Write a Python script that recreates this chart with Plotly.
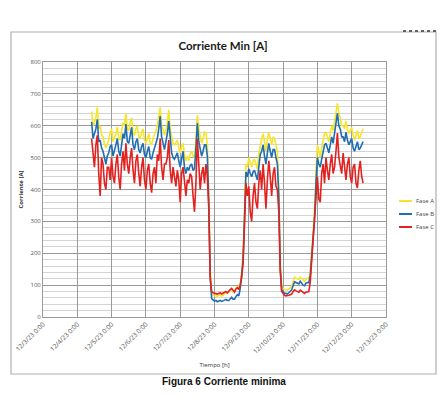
import pandas as pd
import plotly.graph_objects as go

# the page body adds an 8 px margin, so the figure is laid out 8 px smaller
OFF = 8
W, H = 446 - OFF, 419 - OFF
L, R, T, B = 43 - OFF, 60, 62 - OFF, 102


def px_x(px):
    return (px - OFF - L) / (W - L - R)


def px_y(py):
    return (H - B - (py - OFF)) / (H - T - B)


# %% data (hourly, 12/4 10:00 -> 12/12 8:00)
times = pd.date_range("2023-12-04 10:00", periods=191, freq="h")

fase_a = [
    645, 600, 610, 625, 658, 590, 600, 570, 565, 540, 530, 545,
    555, 580, 590, 550, 560, 575, 596, 560, 555, 585, 610, 600,
    640, 590, 585, 610, 625, 575, 570, 590, 600, 565, 560, 580,
    590, 555, 545, 560, 575, 545, 540, 560, 570, 585, 600, 630,
    658, 600, 590, 570, 585, 610, 650, 590, 560, 545, 540, 550,
    555, 530, 515, 535, 545, 510, 490, 505, 490, 510, 520, 505,
    500, 560, 633, 590, 570, 545, 560, 580, 577, 540, 380, 150,
    72, 70, 66, 68, 64, 68, 70, 66, 68, 74, 78, 74,
    76, 84, 88, 80, 82, 90, 94, 88, 105, 140, 190, 330,
    480, 470, 500, 485, 470, 490, 495, 480, 465, 510, 540, 560,
    575, 545, 520, 555, 580, 560, 540, 565, 560, 540, 520, 400,
    170, 100, 90, 86, 85, 84, 88, 92, 95, 110, 125, 122,
    120, 118, 125, 120, 115, 112, 118, 122, 120, 140, 200, 260,
    330, 450, 540, 520, 500, 530, 560, 575, 580, 560, 550, 575,
    600, 585, 610, 640, 670, 640, 625, 600, 600, 590, 615, 590,
    575, 585, 595, 570, 555, 570, 585, 560, 565, 580, 590,
]
fase_b = [
    612, 560, 575, 590, 620, 550, 555, 530, 520, 495, 480, 505,
    515, 535, 540, 505, 520, 540, 560, 520, 505, 545, 575, 560,
    605, 550, 545, 570, 595, 540, 525, 550, 560, 525, 515, 535,
    545, 510, 500, 520, 535, 500, 495, 515, 530, 545, 560, 590,
    630, 565, 540, 525, 550, 575, 615, 550, 515, 500, 495, 505,
    515, 490, 470, 495, 520, 470, 450, 470, 460, 475, 480, 460,
    465, 530, 608, 550, 530, 505, 520, 540, 540, 505, 360, 130,
    58, 54, 50, 52, 48, 50, 52, 49, 50, 53, 55, 52,
    52, 58, 62, 56, 56, 64, 70, 66, 90, 130, 180, 310,
    455, 440, 465, 450, 440, 455, 460, 445, 430, 470, 510, 520,
    540, 505, 480, 515, 545, 520, 500, 525, 525, 500, 480, 380,
    155, 85, 78, 74, 74, 72, 76, 80, 85, 98, 110, 108,
    105, 104, 112, 106, 100, 98, 106, 108, 108, 130, 190, 250,
    310, 420, 500, 480, 470, 495, 525, 540, 545, 525, 515, 540,
    565, 545, 575, 605, 640, 600, 590, 565, 565, 550, 580, 555,
    540, 550, 560, 530, 520, 535, 550, 525, 530, 540, 550,
]
fase_c = [
    560, 520, 470, 540, 570, 450, 380, 500, 480, 420, 400, 470,
    470, 430, 500, 440, 420, 480, 510, 440, 400, 480, 520, 460,
    545, 480, 450, 500, 530, 460, 420, 490, 510, 450, 410, 470,
    500, 430, 400, 460, 480, 420, 390, 450, 470, 420, 510, 490,
    560, 470, 430, 480, 480, 500, 555, 460, 420, 470, 440, 410,
    460, 430, 360, 450, 470, 420, 380, 430, 420, 450, 440, 380,
    330, 420, 560, 480, 400, 450, 470, 420, 480, 440, 340, 120,
    80, 76, 74, 72, 72, 74, 76, 72, 74, 78, 80, 76,
    82, 86, 90, 82, 78, 88, 92, 86, 100, 125, 170, 290,
    420, 380, 410, 330, 300, 380, 420, 360, 340, 420, 460, 400,
    480, 420, 340, 430, 490, 440, 380, 450, 470, 410, 400, 330,
    145, 80, 72, 68, 66, 66, 68, 70, 72, 80, 85, 82,
    80, 78, 84, 80, 76, 74, 78, 80, 80, 110, 180, 230,
    290, 380, 440, 370, 360, 450, 480, 420, 500, 460, 430, 480,
    510, 450, 470, 520, 577, 500, 480, 450, 514, 470, 430, 480,
    500, 440, 420, 470, 480, 420, 405, 460, 490, 440, 420,
]
assert len(fase_a) == len(fase_b) == len(fase_c) == len(times)

day_ticks = pd.date_range("2023-12-03", "2023-12-13", freq="D")
day_labels = [
    "12/3/23 0:00", "12/4/23 0:00", "12/5/23 0:00", "12/6/23 0:00",
    "12/7/23 0:00", "12/8/23 0:00", "12/9/23 0:00", "12/10/23 0:00",
    "12/11/23 0:00", "12/12/23 0:00", "12/13/23 0:00",
]

series = [
    ("Fase A", fase_a, "#f6e52a"),
    ("Fase B", fase_b, "#1f6db3"),
    ("Fase C", fase_c, "#e3211f"),
]

# %%
fig = go.Figure()
for name, values, color in series:
    fig.add_trace(
        go.Scatter(
            x=times,
            y=values,
            name=name,
            mode="lines",
            line=dict(color=color, width=1.6),
            showlegend=False,
        )
    )

# small hand-drawn legend (plotly's own legend rows are too tall here)
legend_shapes = []
legend_notes = []
for k, (name, values, color) in enumerate(series):
    yk = 201 + 13 * k
    legend_shapes.append(
        dict(
            type="line", xref="paper", yref="paper",
            x0=px_x(399), x1=px_x(412), y0=px_y(yk), y1=px_y(yk),
            line=dict(color=color, width=2),
        )
    )
    legend_notes.append(
        dict(
            text=name, xref="paper", yref="paper",
            x=px_x(414), y=px_y(yk), xanchor="left", yanchor="middle",
            showarrow=False, font=dict(size=6, color="#444444"),
        )
    )

fig.update_xaxes(
    range=[day_ticks[0], day_ticks[-1]],
    tickvals=day_ticks,
    ticktext=day_labels,
    tickangle=-45,
    tickfont=dict(size=6.5, color="#555555"),
    showgrid=True,
    gridcolor="#9a9a9a",
    gridwidth=1,
    showline=True,
    linecolor="#9a9a9a",
    mirror=True,
    zeroline=False,
    title=dict(text="Tiempo [h]", font=dict(size=6, color="#333333"), standoff=8),
)
fig.update_yaxes(
    range=[0, 800],
    dtick=100,
    tickfont=dict(size=6, color="#555555"),
    showgrid=True,
    gridcolor="#9a9a9a",
    gridwidth=1,
    minor=dict(dtick=20, showgrid=True, gridcolor="#d4d4d4", gridwidth=1),
    showline=True,
    linecolor="#9a9a9a",
    mirror=True,
    zeroline=False,
    ticks="",
    title=dict(text="<b>Corriente [A]</b>", font=dict(size=6, color="#333333"), standoff=6),
)

fig.update_layout(
    width=W,
    height=H,
    margin=dict(l=L, r=R, t=T, b=B, autoexpand=False),
    paper_bgcolor="white",
    plot_bgcolor="white",
    font=dict(family="Open Sans, Liberation Sans, sans-serif"),
    title=dict(
        text="<b>Corriente Min [A]</b>",
        font=dict(size=11.5, color="#1a1a1a", family="Lato, Open Sans, sans-serif"),
        x=(223 - OFF) / W,
        xanchor="center",
        y=1 - (46 - OFF) / H,
        yanchor="middle",
    ),
    shapes=[
        # outer frame of the figure box
        dict(
            type="rect", xref="paper", yref="paper",
            x0=px_x(11), x1=px_x(436), y0=px_y(374), y1=px_y(32),
            line=dict(color="#b0b0b0", width=1.2),
        ),
        dict(
            type="line", xref="paper", yref="paper",
            x0=px_x(403), x1=px_x(437), y0=px_y(31), y1=px_y(31),
            line=dict(color="#333333", width=1.5, dash="dot"),
        ),
    ] + legend_shapes,
    annotations=[
        dict(
            text="<b>Figura 6 Corriente minima</b>",
            xref="paper", yref="paper",
            x=px_x(224), y=px_y(381),
            xanchor="center", yanchor="middle",
            showarrow=False,
            font=dict(size=10, color="#111111", family="Liberation Sans, Arial, sans-serif"),
        )
    ] + legend_notes,
)

fig.write_html("out.html")
